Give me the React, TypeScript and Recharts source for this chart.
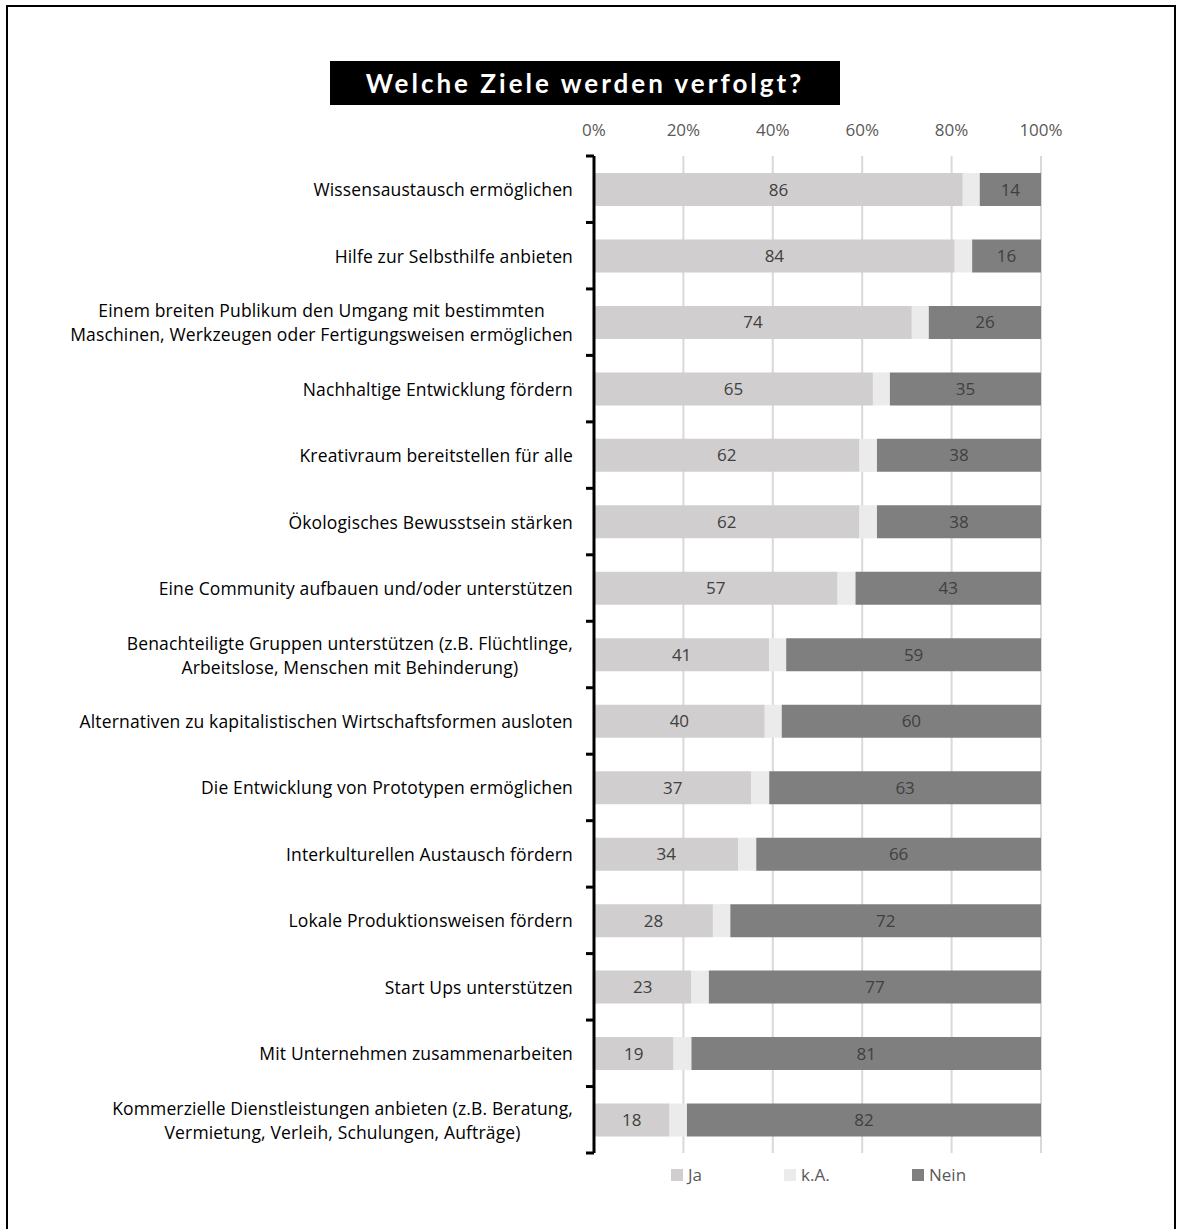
import React from 'react';
import { BarChart, Bar, XAxis, YAxis, CartesianGrid, LabelList, Legend } from 'recharts';

const categories = [
  'Wissensaustausch ermöglichen',
  'Hilfe zur Selbsthilfe anbieten',
  'Einem breiten Publikum den Umgang mit bestimmten\nMaschinen, Werkzeugen oder Fertigungsweisen ermöglichen',
  'Nachhaltige Entwicklung fördern',
  'Kreativraum bereitstellen für alle',
  'Ökologisches Bewusstsein stärken',
  'Eine Community aufbauen und/oder unterstützen',
  'Benachteiligte Gruppen unterstützen (z.B. Flüchtlinge,\nArbeitslose, Menschen mit Behinderung)',
  'Alternativen zu kapitalistischen Wirtschaftsformen ausloten',
  'Die Entwicklung von Prototypen ermöglichen',
  'Interkulturellen Austausch fördern',
  'Lokale Produktionsweisen fördern',
  'Start Ups unterstützen',
  'Mit Unternehmen zusammenarbeiten',
  'Kommerzielle Dienstleistungen anbieten (z.B. Beratung,\nVermietung, Verleih, Schulungen, Aufträge)',
];

// bar shares (percent of all answers, incl. k.A.)
const jaShare = [82.5, 80.7, 71.1, 62.4, 59.4, 59.4, 54.5, 39.2, 38.2, 35.2, 32.3, 26.6, 21.8, 17.8, 16.9];
const kaShare = [3.8, 3.9, 3.8, 3.8, 3.9, 3.9, 4.0, 3.8, 3.8, 4.0, 4.0, 3.9, 3.9, 4.0, 3.9];
const neinShare = [13.7, 15.4, 25.1, 33.8, 36.7, 36.7, 41.5, 57.0, 58.0, 60.8, 63.7, 69.5, 74.3, 78.2, 79.2];

// printed labels (percent of valid answers)
const jaLabels = [86, 84, 74, 65, 62, 62, 57, 41, 40, 37, 34, 28, 23, 19, 18];
const neinLabels = [14, 16, 26, 35, 38, 38, 43, 59, 60, 63, 66, 72, 77, 81, 82];

const xTicks = [0, 20, 40, 60, 80, 100];

const seriesNames = ['Ja', 'k.A.', 'Nein'];
const seriesColors = ['#d0cece', '#ebebeb', '#7f7f7f'];

const data = categories.map((name, i) => ({
  name,
  ja: jaShare[i],
  ka: kaShare[i],
  nein: neinShare[i],
  jaLabel: jaLabels[i],
  neinLabel: neinLabels[i],
}));

const FONT = '"Open Sans", Lato, sans-serif';
const TITLE_FONT = 'Lato, "Open Sans", sans-serif';

const CategoryTick = (props: any) => {
  const { x, y, payload, index, visibleTicksCount } = props;
  const half = payload && payload.offset ? payload.offset : 33.25;
  const axisX = x + 21;
  const lines = String(payload.value).split('\n');
  const boxW = 585;
  const boxH = 70;
  return (
    <g>
      <line x1={axisX - 8} x2={axisX} y1={y - half} y2={y - half} stroke="#000" strokeWidth={3} />
      {index === visibleTicksCount - 1 ? (
        <line x1={axisX - 8} x2={axisX} y1={y + half} y2={y + half} stroke="#000" strokeWidth={3} />
      ) : null}
      <foreignObject x={x - boxW} y={y - boxH / 2} width={boxW} height={boxH}>
        <div
          style={{
            width: '100%',
            height: '100%',
            display: 'flex',
            alignItems: 'center',
            justifyContent: 'flex-end',
            fontFamily: FONT,
            fontSize: 17.5,
            letterSpacing: 0.15,
            color: '#000',
          }}
        >
          <div style={{ textAlign: 'center', lineHeight: '24px', whiteSpace: 'nowrap' }}>
            {lines.map((l, k) => (
              <div key={k}>{l}</div>
            ))}
          </div>
        </div>
      </foreignObject>
    </g>
  );
};

const LegendContent = () => {
  const widths = [113, 128, 100];
  return (
    <div style={{ height: 0, overflow: 'visible', position: 'relative' }}>
      <div style={{ display: 'flex', paddingLeft: 671, fontFamily: FONT, fontSize: 17, color: '#595959' }}>
        {seriesNames.map((n, i) => (
          <div key={n} style={{ width: widths[i], display: 'flex', alignItems: 'center' }}>
            <span style={{ display: 'inline-block', width: 12, height: 12, background: seriesColors[i], marginRight: 5 }} />
            <span>{n}</span>
          </div>
        ))}
      </div>
    </div>
  );
};

export default function App() {
  return (
    <div style={{ position: 'absolute', left: 0, top: 0, width: 1181, height: 1229, background: '#fff', overflow: 'hidden' }}>
      <div
        style={{
          position: 'absolute',
          left: 6,
          top: 5,
          width: 1170,
          height: 1240,
          border: '2px solid #000',
          boxSizing: 'border-box',
        }}
      />
      <div style={{ position: 'absolute', left: 0, top: 0 }}>
        <BarChart
          width={1181}
          height={1229}
          data={data}
          layout="vertical"
          margin={{ top: 126, right: 140, bottom: 76, left: 0 }}
          barSize={33}
        >
          <CartesianGrid horizontal={false} stroke="#d9d9d9" strokeWidth={2} />
          <XAxis
            type="number"
            orientation="top"
            domain={[0, 100]}
            ticks={xTicks}
            tickFormatter={(v: number) => `${v}%`}
            axisLine={false}
            tickLine={false}
            tickSize={0}
            tickMargin={20}
            height={30}
            tick={{ fill: '#595959', fontSize: 17, fontFamily: FONT }}
            interval={0}
          />
          <YAxis
            type="category"
            dataKey="name"
            width={594}
            axisLine={{ stroke: '#000', strokeWidth: 3 }}
            tickLine={false}
            tickSize={0}
            tickMargin={21}
            interval={0}
            tick={<CategoryTick />}
          />
          <Bar dataKey="ja" name={seriesNames[0]} stackId="s" fill={seriesColors[0]} isAnimationActive={false}>
            <LabelList dataKey="jaLabel" position="center" fill="#404040" fontSize={17} fontFamily={FONT} />
          </Bar>
          <Bar dataKey="ka" name={seriesNames[1]} stackId="s" fill={seriesColors[1]} isAnimationActive={false} />
          <Bar dataKey="nein" name={seriesNames[2]} stackId="s" fill={seriesColors[2]} isAnimationActive={false}>
            <LabelList dataKey="neinLabel" position="center" fill="#404040" fontSize={17} fontFamily={FONT} />
          </Bar>
          <Legend
            verticalAlign="bottom"
            content={<LegendContent />}
            wrapperStyle={{ left: 0, top: 1163, width: 1181, height: 0 }}
          />
        </BarChart>
      </div>
      <div
        style={{
          position: 'absolute',
          left: 330,
          top: 61,
          width: 510,
          height: 44,
          background: '#000',
          color: '#fff',
          fontFamily: TITLE_FONT,
          fontWeight: 700,
          fontSize: 26,
          letterSpacing: 3,
          lineHeight: '44px',
          textAlign: 'center',
          whiteSpace: 'nowrap',
        }}
      >
        Welche Ziele werden verfolgt?
      </div>
    </div>
  );
}
